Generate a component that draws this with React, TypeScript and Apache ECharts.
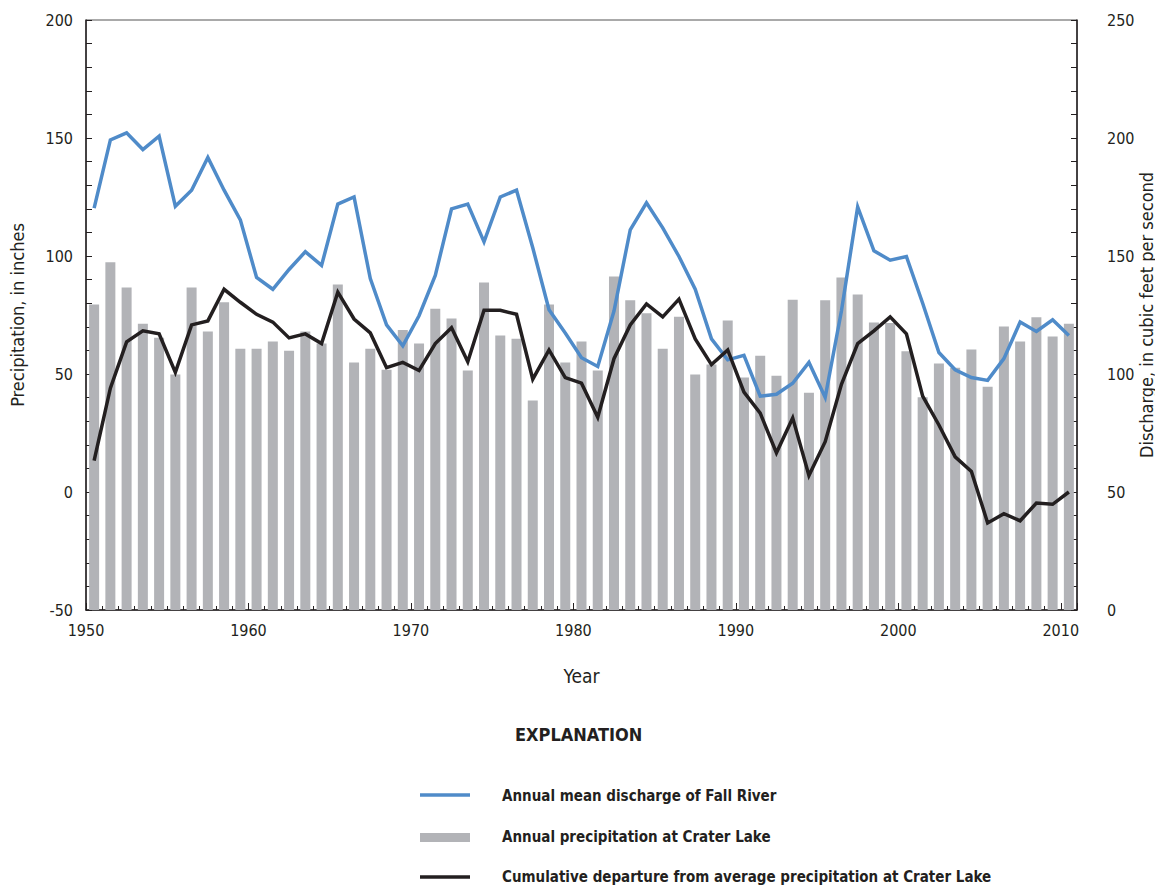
import React, { useEffect, useRef } from "react";
import * as echarts from "echarts";

const years: number[] = [
  1950, 1951, 1952, 1953, 1954, 1955, 1956, 1957, 1958, 1959,
  1960, 1961, 1962, 1963, 1964, 1965, 1966, 1967, 1968, 1969,
  1970, 1971, 1972, 1973, 1974, 1975, 1976, 1977, 1978, 1979,
  1980, 1981, 1982, 1983, 1984, 1985, 1986, 1987, 1988, 1989,
  1990, 1991, 1992, 1993, 1994, 1995, 1996, 1997, 1998, 1999,
  2000, 2001, 2002, 2003, 2004, 2005, 2006, 2007, 2008, 2009, 2010,
];

// Annual precipitation at Crater Lake, inches
const precipitation: number[] = [
  79.4, 97.3, 86.6, 71.3, 65.4, 49.8, 86.6, 68.0, 80.4, 60.7,
  60.7, 63.8, 59.9, 68.0, 62.9, 87.9, 54.9, 60.7, 51.8, 68.6,
  62.9, 77.7, 73.5, 51.5, 88.8, 66.3, 64.9, 38.8, 79.4, 54.9,
  63.8, 51.5, 91.3, 81.2, 75.7, 60.7, 74.3, 49.8, 54.0, 72.7,
  48.5, 57.7, 49.3, 81.5, 42.1, 81.2, 90.9, 83.7, 71.8, 71.6,
  59.6, 40.1, 54.4, 52.7, 60.4, 44.6, 70.1, 63.8, 74.0, 65.9, 71.3,
];

// Annual mean discharge of Fall River, cubic feet per second
const discharge: number[] = [
  170.3, 199.2, 202.2, 195.1, 200.8, 171.1, 177.9, 191.8, 177.9, 165.3,
  140.9, 135.9, 144.3, 151.8, 146.0, 172.0, 175.0, 140.4, 120.8, 111.9,
  124.7, 141.8, 170.0, 172.0, 156.0, 175.0, 177.9, 153.5, 127.2, 117.4,
  106.9, 103.2, 126.7, 161.1, 172.5, 161.9, 149.8, 135.9, 114.9, 106.0,
  107.9, 90.6, 91.4, 96.1, 104.9, 90.1, 126.7, 170.8, 152.2, 148.2,
  149.8, 130.0, 109.1, 101.8, 98.5, 97.3, 106.5, 122.0, 118.0, 123.0, 116.3,
];

// Cumulative departure from average precipitation at Crater Lake, inches
const cumulativeDeparture: number[] = [
  13.3, 44.0, 63.6, 68.3, 67.0, 50.7, 70.8, 72.5, 85.9, 80.4,
  75.3, 72.0, 65.3, 67.0, 62.9, 84.7, 73.3, 67.4, 52.7, 54.9,
  51.5, 62.9, 69.6, 55.2, 77.0, 77.0, 75.3, 47.8, 60.2, 48.5,
  46.1, 31.7, 56.5, 70.8, 79.7, 74.2, 81.7, 64.9, 54.0, 60.2,
  42.3, 33.4, 16.6, 31.4, 7.0, 21.3, 45.6, 62.9, 68.3, 74.2,
  67.0, 40.6, 28.4, 14.9, 8.7, -13.1, -9.2, -12.2, -4.7, -5.2, 0.0,
];

const legendLabels: string[] = [
  "Annual mean discharge of Fall River",
  "Annual precipitation at Crater Lake",
  "Cumulative departure from average precipitation at Crater Lake",
];

const FONT = '"Liberation Sans Narrow", "DejaVu Sans Condensed", "Roboto", sans-serif';
const BLUE = "#4f8bc9";
const GRAY = "#b2b3b7";
const BLACK = "#231f20";
const AXIS = "#231f20";

export default function App() {
  const ref = useRef<HTMLDivElement>(null);

  useEffect(() => {
    if (!ref.current) return;
    const chart = echarts.init(ref.current, undefined, { renderer: "svg" });
    const mid = (y: number) => y + 0.5;

    const tickCommon = {
      axisLine: { show: true, onZero: false, lineStyle: { color: AXIS, width: 1.5 } },
      axisTick: { show: true, inside: true, length: 6, lineStyle: { color: AXIS, width: 1 } },
      minorTick: { show: true, splitNumber: 5, length: 6, lineStyle: { color: AXIS, width: 1 } },
      splitLine: { show: false },
      minorSplitLine: { show: false },
    };

    chart.setOption({
      animation: false,
      backgroundColor: "#ffffff",
      textStyle: { fontFamily: FONT },
      grid: {
        left: 86,
        right: 78,
        top: 20,
        height: 590,
        show: true,
        borderColor: "#555",
        borderWidth: 1,
        containLabel: false,
        outerBoundsMode: "none",
      },
      xAxis: {
        type: "value",
        min: 1950,
        max: 2011,
        interval: 10,
        name: "Year",
        nameLocation: "middle",
        nameGap: 56,
        nameMoveOverlap: false,
        nameTextStyle: { fontFamily: FONT, fontSize: 19, color: BLACK },
        axisLine: { show: true, onZero: false, lineStyle: { color: AXIS, width: 1.5 } },
        axisTick: { show: true, inside: true, length: 7, lineStyle: { color: AXIS, width: 1 } },
        minorTick: { show: true, splitNumber: 10, length: 4, lineStyle: { color: AXIS, width: 1 } },
        splitLine: { show: false },
        minorSplitLine: { show: false },
        axisLabel: {
          fontFamily: FONT,
          fontSize: 16,
          color: BLACK,
          margin: 12,
          showMaxLabel: false,
          formatter: (v: number) => (v % 10 === 0 ? String(v) : ""),
        },
      },
      yAxis: [
        {
          type: "value",
          position: "left",
          min: -50,
          max: 200,
          interval: 50,
          startValue: -50,
          name: "Precipitation, in inches",
          nameLocation: "middle",
          nameGap: 60,
          nameMoveOverlap: false,
          nameTextStyle: { fontFamily: FONT, fontSize: 18, color: BLACK },
          axisLabel: { fontFamily: FONT, fontSize: 16, color: BLACK, margin: 13 },
          ...tickCommon,
        },
        {
          type: "value",
          position: "right",
          min: 0,
          max: 250,
          interval: 50,
          name: "Discharge, in cubic feet per second",
          nameLocation: "middle",
          nameGap: 60,
          nameRotate: 90,
          nameMoveOverlap: false,
          nameTextStyle: { fontFamily: FONT, fontSize: 18, color: BLACK },
          axisLabel: { fontFamily: FONT, fontSize: 16, color: BLACK, margin: 30 },
          ...tickCommon,
        },
      ],
      series: [
        {
          name: legendLabels[1],
          type: "bar",
          yAxisIndex: 0,
          barWidth: 10,
          itemStyle: { color: GRAY },
          data: years.map((y, i) => [mid(y), precipitation[i]]),
          z: 1,
        },
        {
          name: legendLabels[0],
          type: "line",
          yAxisIndex: 1,
          showSymbol: false,
          symbol: "none",
          lineStyle: { color: BLUE, width: 3.5, join: "miter" },
          data: years.map((y, i) => [mid(y), discharge[i]]),
          z: 3,
        },
        {
          name: legendLabels[2],
          type: "line",
          yAxisIndex: 0,
          showSymbol: false,
          symbol: "none",
          lineStyle: { color: BLACK, width: 3.5, join: "miter" },
          data: years.map((y, i) => [mid(y), cumulativeDeparture[i]]),
          z: 4,
        },
      ],
      graphic: [
        {
          type: "text",
          left: 515,
          top: 725,
          style: { text: "EXPLANATION", fontFamily: FONT, fontSize: 18, fontWeight: "bold", fill: BLACK },
        },
        { type: "line", shape: { x1: 420, y1: 795, x2: 470, y2: 795 }, style: { stroke: BLUE, lineWidth: 3.5 } },
        { type: "rect", shape: { x: 420, y: 833, width: 50, height: 9 }, style: { fill: GRAY } },
        { type: "line", shape: { x1: 420, y1: 877, x2: 470, y2: 877 }, style: { stroke: BLACK, lineWidth: 3.5 } },
        {
          type: "text",
          left: 502,
          top: 788,
          style: { text: legendLabels[0], fontFamily: FONT, fontSize: 15, fontWeight: "bold", fill: BLACK },
        },
        {
          type: "text",
          left: 502,
          top: 829,
          style: { text: legendLabels[1], fontFamily: FONT, fontSize: 15, fontWeight: "bold", fill: BLACK },
        },
        {
          type: "text",
          left: 502,
          top: 869,
          style: { text: legendLabels[2], fontFamily: FONT, fontSize: 15, fontWeight: "bold", fill: BLACK },
        },
      ],
    });

    return () => chart.dispose();
  }, []);

  return (
    <div
      ref={ref}
      style={{ position: "fixed", left: 0, top: 0, width: 1155, height: 888, background: "#fff" }}
    />
  );
}
